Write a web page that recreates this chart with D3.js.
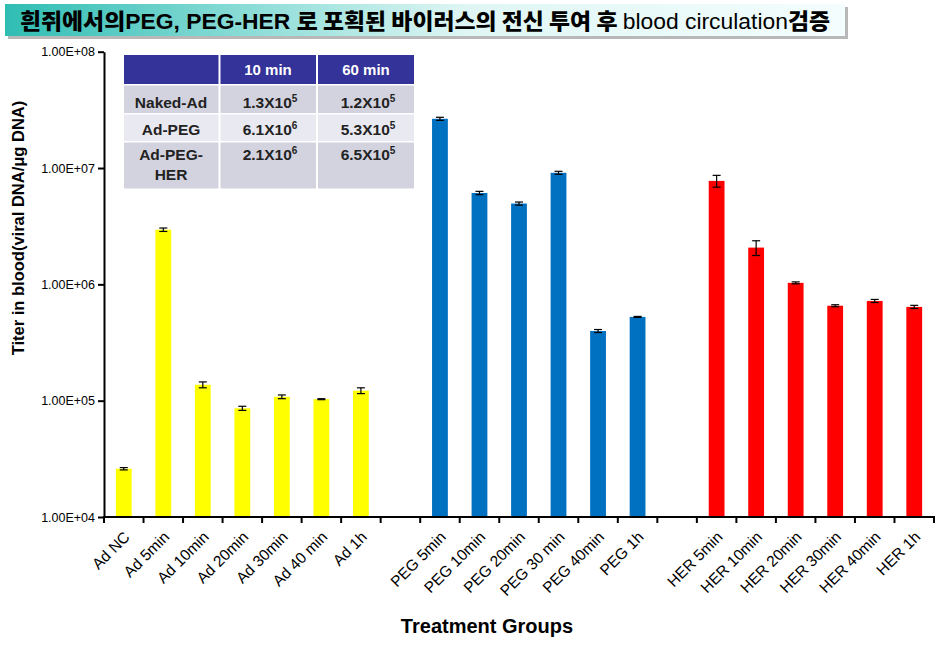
<!DOCTYPE html>
<html><head><meta charset="utf-8">
<script src="https://cdn.jsdelivr.net/npm/d3@7"></script>
<style>
html,body{margin:0;padding:0;background:#fff;}
svg{display:block;}
</style></head>
<body>
<svg id="chart" width="950" height="650"></svg>
<script>
// ---- data ----
const adLabels  = ["Ad NC","Ad 5min","Ad 10min","Ad 20min","Ad 30min","Ad 40 min","Ad 1h"];
const adValues  = [2.6e4, 2.95e6, 1.37e5, 8.6e4, 1.08e5, 1.03e5, 1.22e5];
const adErrors  = [6e2, 1e5, 8e3, 3.5e3, 4e3, 1e3, 7e3];
const pegLabels = ["PEG 5min","PEG 10min","PEG 20min","PEG 30 min","PEG 40min","PEG 1h"];
const pegValues = [2.65e7, 6.1e6, 4.95e6, 9.1e6, 3.97e5, 5.25e5];
const pegErrors = [8e5, 2e5, 1.5e5, 2.7e5, 1.2e4, 5e3];
const herLabels = ["HER 5min","HER 10min","HER 20min","HER 30min","HER 40min","HER 1h"];
const herValues = [7.75e6, 2.07e6, 1.03e6, 6.55e5, 7.2e5, 6.4e5];
const herErrors = [9e5, 3e5, 2e4, 1.3e4, 2.2e4, 2e4];
const groupColors = ["#FFFF00", "#0070C0", "#FF0000"];
const yTicks = [1e4, 1e5, 1e6, 1e7, 1e8];

const tableHeader = ["", "10 min", "60 min"];
const tableRows = [
  {name:["Naked-Ad"], v10:["1.3X10","5"], v60:["1.2X10","5"]},
  {name:["Ad-PEG"], v10:["6.1X10","6"], v60:["5.3X10","5"]},
  {name:["Ad-PEG-","HER"], v10:["2.1X10","6"], v60:["6.5X10","5"]}
];

const titleParts = [
  {t:"흰쥐에서의", k:"ko"},
  {t:"PEG, PEG-HER  ", k:"enb"},
  {t:"로 포획된 바이러스의 전신 투여 후 ", k:"ko"},
  {t:"blood circulation", k:"en"},
  {t:"검증", k:"ko"}
];

// ---- build rows ----
const rows = [];
adLabels.forEach((l,i)=>rows.push({id:l,label:l,v:adValues[i],e:adErrors[i],g:0}));
rows.push({id:"gap1",label:"",v:null});
pegLabels.forEach((l,i)=>rows.push({id:l,label:l,v:pegValues[i],e:pegErrors[i],g:1}));
rows.push({id:"gap2",label:"",v:null});
herLabels.forEach((l,i)=>rows.push({id:l,label:l,v:herValues[i],e:herErrors[i],g:2}));

const svg = d3.select("#chart");
const LAT = "'Liberation Sans', Arial, sans-serif";
const KO = "'Noto Sans CJK KR', sans-serif";

// ---- title ----
const defs = svg.append("defs");
const grad = defs.append("linearGradient").attr("id","tg").attr("x1","0").attr("x2","1").attr("y1","0").attr("y2","0");
grad.append("stop").attr("offset","0%").attr("stop-color","#2fbdb3");
grad.append("stop").attr("offset","25%").attr("stop-color","#7fd8d2");
grad.append("stop").attr("offset","55%").attr("stop-color","#dff6f4");
grad.append("stop").attr("offset","100%").attr("stop-color","#f4fdfe");
svg.append("rect").attr("x",8).attr("y",7).attr("width",840).attr("height",32).attr("fill","#b8b8b8");
svg.append("rect").attr("x",5).attr("y",4).attr("width",840).attr("height",32).attr("fill","url(#tg)");
const title = svg.append("text").attr("x",20).attr("y",29)
  .attr("textLength",810).attr("lengthAdjust","spacingAndGlyphs")
  .attr("font-size",22).attr("fill","#000");
titleParts.forEach(p=>{
  title.append("tspan").text(p.t)
    .attr("font-family", p.k==="ko"?KO:LAT)
    .attr("font-weight", p.k==="ko"?900:(p.k==="enb"?"bold":"normal"));
});

// ---- scales ----
const x = d3.scaleBand().domain(rows.map(r=>r.id)).range([104,934]).paddingInner(0).paddingOuter(0);
const y = d3.scaleLog().domain([1e4,1e8]).range([517,51.7]);
const barW = 15.8;

// ---- bars ----
const data = rows.filter(r=>r.v!==null);
svg.append("g").selectAll("rect").data(data).join("rect")
  .attr("x",d=>x(d.id)+x.bandwidth()/2-barW/2)
  .attr("y",d=>y(d.v))
  .attr("width",barW)
  .attr("height",d=>y(1e4)-y(d.v))
  .attr("fill",d=>groupColors[d.g]);

// ---- error bars ----
const eg = svg.append("g").attr("stroke","#000").attr("stroke-width",1.2);
data.forEach(d=>{
  const cx = x(d.id)+x.bandwidth()/2;
  const y1 = y(d.v+d.e), y2 = y(Math.max(d.v-d.e,1e4));
  eg.append("line").attr("x1",cx).attr("x2",cx).attr("y1",y1).attr("y2",y2);
  eg.append("line").attr("x1",cx-4).attr("x2",cx+4).attr("y1",y1).attr("y2",y1);
  eg.append("line").attr("x1",cx-4).attr("x2",cx+4).attr("y1",y2).attr("y2",y2);
});

// ---- y axis ----
const yAxis = d3.axisLeft(y).tickValues(yTicks).tickSize(6).tickSizeOuter(0).tickPadding(3)
  .tickFormat(d=>"1.00E+0"+Math.round(Math.log10(d)));
const ya = svg.append("g").attr("transform","translate(104,0)").call(yAxis);
ya.select(".domain").attr("stroke","#000").attr("stroke-width",2);
ya.selectAll(".tick line").attr("stroke","#000").attr("stroke-width",2);
ya.selectAll(".tick text").attr("font-family",LAT).attr("font-size",12.5).attr("fill","#000");

// ---- x axis ----
const xa = svg.append("g");
xa.append("line").attr("x1",103).attr("x2",935).attr("y1",517).attr("y2",517).attr("stroke","#000").attr("stroke-width",2);
const bounds = rows.map(r=>x(r.id)).concat([x.range()[1]]);
xa.selectAll("line.tk").data(bounds).join("line").attr("class","tk")
  .attr("x1",d=>d).attr("x2",d=>d).attr("y1",517).attr("y2",523)
  .attr("stroke","#000").attr("stroke-width",2);
xa.selectAll("text").data(data).join("text")
  .attr("transform",d=>`translate(${x(d.id)+x.bandwidth()/2+7},538) rotate(-45)`)
  .attr("text-anchor","end")
  .attr("font-family",LAT).attr("font-size",15.5).attr("fill","#000")
  .text(d=>d.label);

// ---- axis titles ----
svg.append("text").attr("transform","translate(24,228) rotate(-90)")
  .attr("text-anchor","middle").attr("font-family",LAT).attr("font-weight","bold")
  .attr("font-size",16.5).text("Titer in blood(viral DNA/μg DNA)");
svg.append("text").attr("x",487).attr("y",633).attr("text-anchor","middle")
  .attr("font-family",LAT).attr("font-weight","bold").attr("font-size",20)
  .text("Treatment Groups");

// ---- table ----
const colX = [124, 220.5, 318, 414];
const rowY = [55, 85.5, 114.5, 142.5, 188.5];
const rowFill = ["#333399", "#d3d3e0", "#e9e9f1", "#d3d3e0"];
const tg = svg.append("g");
for (let r=0;r<4;r++){
  for (let c=0;c<3;c++){
    tg.append("rect").attr("x",colX[c]).attr("y",rowY[r])
      .attr("width",colX[c+1]-colX[c]-(c<2?2:0)).attr("height",rowY[r+1]-rowY[r]-(r<3?1.5:0))
      .attr("fill",rowFill[r]);
  }
}
const colC = [171, 268, 366];
tableHeader.forEach((h,c)=>{
  if(!h) return;
  tg.append("text").attr("x",colC[c]).attr("y",75).attr("text-anchor","middle")
    .attr("font-family",LAT).attr("font-weight","bold").attr("font-size",15).attr("fill","#fff").text(h);
});
const baseY = [107.5, 134.5, 160];
tableRows.forEach((row,i)=>{
  const t = tg.append("text").attr("x",colC[0]).attr("y",baseY[i]).attr("text-anchor","middle")
    .attr("font-family",LAT).attr("font-weight","bold").attr("font-size",15.5).attr("fill","#222");
  row.name.forEach((n,j)=>t.append("tspan").attr("x",colC[0]).attr("dy",j?20:0).text(n));
  [row.v10,row.v60].forEach((v,k)=>{
    const tt = tg.append("text").attr("x",colC[k+1]+2).attr("y",baseY[i]).attr("text-anchor","middle")
      .attr("font-family",LAT).attr("font-weight","bold").attr("font-size",15.5).attr("fill","#222");
    tt.append("tspan").text(v[0]);
    tt.append("tspan").attr("dy",-6).attr("font-size",10).text(v[1]);
  });
});
</script>
</body></html>
